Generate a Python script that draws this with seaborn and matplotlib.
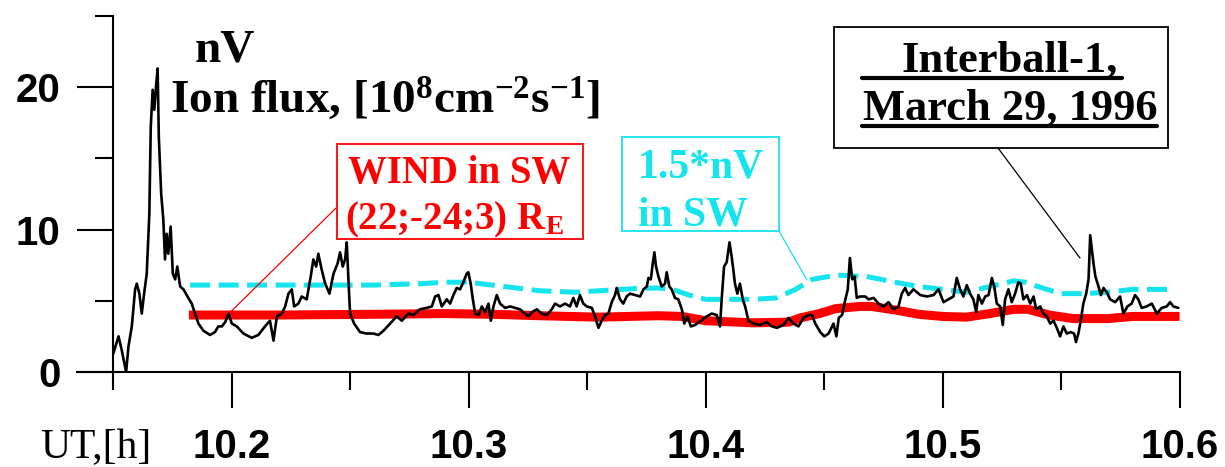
import matplotlib
matplotlib.use("Agg")
import matplotlib.pyplot as plt
from matplotlib.patches import Rectangle
from matplotlib.lines import Line2D
import seaborn as sns

# Interball-1 ion flux nV, UT hours / 1e8 cm-2 s-1
ib_t = [10.1501, 10.1523, 10.1537, 10.1555, 10.1565, 10.1579, 10.1593, 10.1600, 10.1611, 10.1621,
        10.1631, 10.1642, 10.1653, 10.1659, 10.1667, 10.1674, 10.1681, 10.1688, 10.1693, 10.1703,
        10.1712, 10.1719, 10.1726, 10.1733, 10.1743, 10.1752, 10.1762, 10.1771, 10.1783, 10.1797,
        10.1814, 10.1832, 10.1846, 10.1860, 10.1881, 10.1909, 10.1930, 10.1944, 10.1959, 10.1973,
        10.1987, 10.2001, 10.2022, 10.2050, 10.2085, 10.2113, 10.2141, 10.2162, 10.2177, 10.2191,
        10.2212, 10.2226, 10.2240, 10.2254, 10.2264, 10.2282, 10.2296, 10.2317, 10.2334, 10.2345,
        10.2357, 10.2366, 10.2380, 10.2395, 10.2413, 10.2430, 10.2447, 10.2458, 10.2469, 10.2479,
        10.2486, 10.2493, 10.2500, 10.2517, 10.2542, 10.2570, 10.2598, 10.2620, 10.2641, 10.2669,
        10.2697, 10.2718,
        10.2746, 10.2767, 10.2795, 10.2823, 10.2845, 10.2859, 10.2873, 10.2887, 10.2908, 10.2922,
        10.2936, 10.2950, 10.2964, 10.2978, 10.2992, 10.2999, 10.3009, 10.3018, 10.3028, 10.3042,
        10.3056, 10.3070, 10.3084, 10.3094, 10.3105, 10.3119, 10.3133, 10.3154, 10.3175, 10.3196,
        10.3217, 10.3238, 10.3253, 10.3267, 10.3288, 10.3309, 10.3330, 10.3351, 10.3365, 10.3386,
        10.3407, 10.3428, 10.3442, 10.3456, 10.3470, 10.3484, 10.3499, 10.3520, 10.3534, 10.3548,
        10.3562, 10.3576, 10.3590, 10.3604, 10.3618, 10.3625, 10.3639, 10.3653, 10.3667, 10.3681,
        10.3703, 10.3724, 10.3738, 10.3752, 10.3759, 10.3769, 10.3777, 10.3784, 10.3791, 10.3801,
        10.3815, 10.3829, 10.3836, 10.3847, 10.3857, 10.3871, 10.3885, 10.3900, 10.3910, 10.3924,
        10.3938, 10.3956,
        10.4005, 10.4026, 10.4047, 10.4061, 10.4068, 10.4078, 10.4089, 10.4101, 10.4110, 10.4117,
        10.4124, 10.4134, 10.4145, 10.4157, 10.4167, 10.4181, 10.4202, 10.4230, 10.4258, 10.4280,
        10.4301, 10.4329, 10.4350, 10.4371, 10.4392, 10.4413, 10.4435, 10.4449, 10.4463, 10.4484,
        10.4501, 10.4519, 10.4540, 10.4552, 10.4562, 10.4576, 10.4590, 10.4600, 10.4609, 10.4619,
        10.4629, 10.4638, 10.4652, 10.4674, 10.4688, 10.4709, 10.4730, 10.4751, 10.4772, 10.4793,
        10.4814, 10.4828, 10.4842, 10.4856, 10.4877, 10.4906, 10.4934, 10.4962, 10.4983, 10.5004,
        10.5046, 10.5060, 10.5074, 10.5088, 10.5102, 10.5116, 10.5130, 10.5142, 10.5151, 10.5166,
        10.5180, 10.5194, 10.5208, 10.5218, 10.5229, 10.5243, 10.5254, 10.5264, 10.5278, 10.5292,
        10.5306, 10.5320, 10.5330, 10.5341, 10.5356, 10.5370, 10.5384, 10.5395, 10.5412, 10.5426,
        10.5440, 10.5454, 10.5468, 10.5482, 10.5496, 10.5510, 10.5524, 10.5541, 10.5555, 10.5563,
        10.5573, 10.5583, 10.5594, 10.5606, 10.5616, 10.5623, 10.5630, 10.5637, 10.5645, 10.5658,
        10.5668, 10.5679, 10.5693, 10.5707, 10.5728, 10.5749, 10.5763, 10.5780, 10.5798, 10.5812,
        10.5826, 10.5840, 10.5861, 10.5883, 10.5904, 10.5925, 10.5946, 10.5960, 10.5974, 10.5995]
ib_nv = [1.3, 2.5, 1.5, 0.0, 1.8, 3.2, 5.8, 6.2, 5.5, 4.1,
         5.5, 6.9, 11.1, 17.2, 19.8, 18.4, 20.0, 21.3, 16.5, 12.5,
         10.7, 7.9, 9.7, 8.3, 10.2, 6.9, 6.5, 7.4, 6.0, 5.8,
         5.3, 4.8, 4.1, 3.4, 2.9, 2.6, 2.8, 3.2, 3.2, 3.5,
         4.1, 3.4, 3.2, 2.7, 2.4, 2.6, 3.2, 3.6, 2.2, 3.9,
         4.1, 4.6, 5.5, 5.8, 4.6, 4.8, 5.3, 5.1, 6.7, 7.9,
         7.4, 8.3, 7.2, 6.2, 5.5, 6.9, 7.6, 8.4, 7.4, 7.9,
         9.1, 6.5, 4.1, 3.4, 2.8, 2.7, 2.7, 2.6, 2.9, 3.4,
         3.9, 3.6,
         4.1, 4.0, 4.4, 4.5, 4.6, 5.3, 5.4, 4.6, 5.1, 4.8,
         5.4, 5.9, 5.8, 6.3, 6.9, 7.0, 6.2, 5.1, 4.1, 4.0,
         4.6, 4.2, 4.8, 3.6, 4.6, 5.4, 4.8, 4.5, 4.6, 4.5,
         4.4, 4.1, 3.9, 4.2, 4.4, 4.1, 4.0, 4.4, 4.8, 4.6,
         4.8, 4.6, 5.2, 4.6, 5.4, 4.8, 4.6, 4.5, 3.9, 3.1,
         3.6, 4.0, 4.1, 4.9, 5.4, 5.9, 5.1, 4.8, 5.3, 5.5,
         5.4, 5.3, 5.8, 6.0, 6.6, 6.5, 7.6, 8.4, 7.4, 6.7,
         6.0, 6.2, 7.0, 6.0, 5.8, 5.2, 5.1, 4.4, 3.4, 3.9,
         3.2, 3.3,
         3.9, 4.1, 4.0, 3.2, 5.1, 7.4, 7.7, 9.1, 8.1, 7.2,
         6.2, 5.5, 6.2, 5.1, 4.6, 3.6, 3.4, 3.3, 3.5, 3.2,
         3.1, 3.3, 3.8, 3.4, 3.2, 3.8, 4.0, 4.0, 3.4, 2.8,
         2.5, 2.7, 3.4, 2.5, 3.8, 4.0, 5.1, 5.8, 8.0, 6.5,
         6.7, 5.2, 5.3, 5.3, 5.1, 5.2, 4.8, 4.6, 4.9, 4.4,
         4.6, 5.5, 5.9, 5.4, 5.8, 5.4, 5.3, 5.4, 5.8, 4.9,
         5.3, 6.6, 5.8, 5.3, 6.1, 5.5, 5.1, 4.2, 5.4, 4.8,
         5.3, 5.4, 6.6, 6.0, 4.8, 4.6, 3.3, 5.1, 5.8, 4.9,
         5.5, 6.3, 6.2, 5.1, 5.4, 4.8, 5.3, 4.4, 4.6, 4.1,
         3.9, 3.4, 3.6, 3.1, 2.5, 3.2, 2.7, 2.8, 2.7, 2.1,
         2.7, 3.6, 4.8, 5.5, 6.5, 9.6, 8.6, 7.6, 6.7, 6.0,
         5.4, 5.9, 5.6, 5.1, 4.9, 5.3, 4.1, 4.6, 4.8, 5.4,
         5.1, 4.5, 4.6, 4.8, 4.1, 4.5, 4.6, 4.9, 4.6, 4.5]

# WIND in the solar wind
wind_t = [10.182, 10.22, 10.26, 10.29, 10.31, 10.33, 10.355, 10.38, 10.39, 10.40,
          10.42, 10.435, 10.44, 10.448, 10.455, 10.465, 10.47, 10.48, 10.49, 10.50,
          10.51, 10.52, 10.53, 10.536, 10.545, 10.555, 10.57, 10.58, 10.60]
wind_nv = [4.0, 4.0, 4.05, 4.1, 4.05, 3.95, 3.85, 3.95, 3.9, 3.6,
           3.45, 3.5, 3.8, 4.1, 4.45, 4.6, 4.6, 4.35, 4.05, 3.9,
           3.85, 4.1, 4.4, 4.4, 4.0, 3.75, 3.75, 3.9, 3.9]

# 1.5*nV in SW
sw_t = [10.1825, 10.21, 10.26, 10.28, 10.29, 10.30, 10.31, 10.32, 10.33, 10.345,
        10.355, 10.37, 10.38, 10.386, 10.393, 10.40, 10.42, 10.43, 10.438, 10.445,
        10.455, 10.468, 10.48, 10.49, 10.50, 10.51, 10.52, 10.53, 10.535, 10.542,
        10.55, 10.56, 10.57, 10.58, 10.598]
sw_nv = [6.1, 6.1, 6.1, 6.2, 6.3, 6.3, 6.1, 5.9, 5.7, 5.6,
         5.7, 5.85, 5.9, 5.8, 5.4, 5.1, 5.1, 5.2, 5.8, 6.5,
         6.8, 6.7, 6.3, 6.0, 5.8, 5.6, 6.0, 6.4, 6.3, 5.9,
         5.5, 5.5, 5.6, 5.8, 5.8]

x_major = [10.2, 10.3, 10.4, 10.5, 10.6]
x_minor = [10.15, 10.25, 10.35, 10.45, 10.55]
y_major = [0, 10, 20]
y_minor = [5, 15, 25]

W, H = 1225, 467
sns.set_style("ticks")
plt.rcParams['font.family'] = ['Liberation Sans', 'DejaVu Sans']
plt.rcParams['text.color'] = 'black'
plt.rcParams['xtick.color'] = 'black'
plt.rcParams['ytick.color'] = 'black'
plt.rcParams['mathtext.fontset'] = 'custom'
plt.rcParams['mathtext.rm'] = 'Liberation Serif:bold'
plt.rcParams['mathtext.it'] = 'Liberation Serif:italic:bold'
plt.rcParams['mathtext.bf'] = 'Liberation Serif:bold'

fig = plt.figure(figsize=(12.25, 4.67), dpi=100)
ax = fig.add_axes([0.0629, 0.2034, 0.9, 0.7629])

sns.lineplot(x=wind_t, y=wind_nv, color='#ff0000', lw=6.5, ax=ax, estimator=None, sort=False,
             solid_capstyle='butt')
sns.lineplot(x=sw_t, y=sw_nv, color='#14e4ee', lw=3.6, ax=ax, estimator=None, sort=False)
ax.lines[-1].set_dashes((4, 1.7))
sns.lineplot(x=ib_t, y=ib_nv, color='black', lw=1.9, ax=ax, estimator=None, sort=False)

ax.set_xlim(10.1348, 10.6)
ax.set_ylim(0, 25)
ax.spines['left'].set_position(('data', 10.15))
ax.spines['top'].set_visible(False)
ax.spines['right'].set_visible(False)
for s in ['left', 'bottom']:
    ax.spines[s].set_linewidth(1.5)
    ax.spines[s].set_color('black')

ax.set_xticks(x_major)
ax.set_xticks(x_minor, minor=True)
ax.set_yticks(y_major)
ax.set_yticks(y_minor, minor=True)
ax.set_xticklabels([f"{v:.1f}" for v in x_major])
ax.set_yticklabels([str(v) for v in y_major])
ax.tick_params(which='major', length=26, width=1.5, color='black', labelcolor='black',
               labelsize=29)
ax.tick_params(which='minor', length=13, width=1.5, color='black')
ax.tick_params(axis='x', which='major', pad=14)
ax.tick_params(axis='y', which='major', pad=12)
for lab in ax.get_xticklabels() + ax.get_yticklabels():
    lab.set_fontweight('bold')
ax.set_xlabel('')
ax.set_ylabel('')


def fpos(px, py):
    return px / W, 1 - py / H


serif = ['Liberation Serif', 'DejaVu Serif']

fig.text(*fpos(40, 458), 'UT,[h]', family=serif, fontsize=30, color='black', va='baseline')
fig.text(*fpos(195, 62), 'nV', family=serif, fontsize=34, weight='bold', color='black',
         va='baseline')
fig.text(*fpos(170, 113), r'Ion flux, [10$^{8}$cm$^{-2}$s$^{-1}$]', family=serif,
         fontsize=34, weight='bold', color='black', va='baseline')

# WIND box
red = '#ff0000'
fig.add_artist(Rectangle(fpos(337, 239), (583 - 337) / W, (239 - 144) / H,
                         transform=fig.transFigure, fill=False, edgecolor=red, lw=1.3))
fig.text(*fpos(348, 183), 'WIND in SW', family=serif, fontsize=28, weight='bold',
         color=red, va='baseline')
fig.text(*fpos(345, 229), r'(22;-24;3) R$_{\mathrm{E}}$', family=serif, fontsize=28,
         weight='bold', color=red, va='baseline')
ax.annotate('', xy=(10.1995, 4.2), xycoords='data', xytext=fpos(336, 208),
            textcoords='figure fraction',
            arrowprops=dict(arrowstyle='-', color=red, lw=0.9, shrinkA=0, shrinkB=0))

# 1.5*nV box
cyan = '#14e4ee'
fig.add_artist(Rectangle(fpos(622, 231), (779 - 622) / W, (231 - 137) / H,
                         transform=fig.transFigure, fill=False, edgecolor=cyan, lw=1.3))
fig.text(*fpos(638, 177), '1.5*nV', family=serif, fontsize=30, weight='bold',
         color=cyan, va='baseline')
fig.text(*fpos(638, 225), 'in SW', family=serif, fontsize=30, weight='bold',
         color=cyan, va='baseline')
ax.annotate('', xy=(10.4428, 6.46), xycoords='data', xytext=fpos(779, 231),
            textcoords='figure fraction',
            arrowprops=dict(arrowstyle='-', color=cyan, lw=0.9, shrinkA=0, shrinkB=0))

# Interball box
fig.add_artist(Rectangle(fpos(834, 148), (1168 - 834) / W, (148 - 27) / H,
                         transform=fig.transFigure, fill=False, edgecolor='black', lw=1.3))
fig.text(*fpos(1010, 72), 'Interball-1,', family=serif, fontsize=32, weight='bold',
         color='black', ha='center', va='baseline')
fig.text(*fpos(1010, 120), 'March 29, 1996', family=serif, fontsize=32, weight='bold',
         color='black', ha='center', va='baseline')
for x0, x1, yy in [(862, 1122, 78), (862, 1157, 126)]:
    fig.add_artist(Line2D([x0 / W, x1 / W], [1 - yy / H] * 2, transform=fig.transFigure,
                          color='black', lw=3))
ax.annotate('', xy=(10.558, 8.0), xycoords='data', xytext=fpos(998, 148),
            textcoords='figure fraction',
            arrowprops=dict(arrowstyle='-', color='black', lw=0.9, shrinkA=0, shrinkB=0))

fig.savefig('out.png', dpi=100)
